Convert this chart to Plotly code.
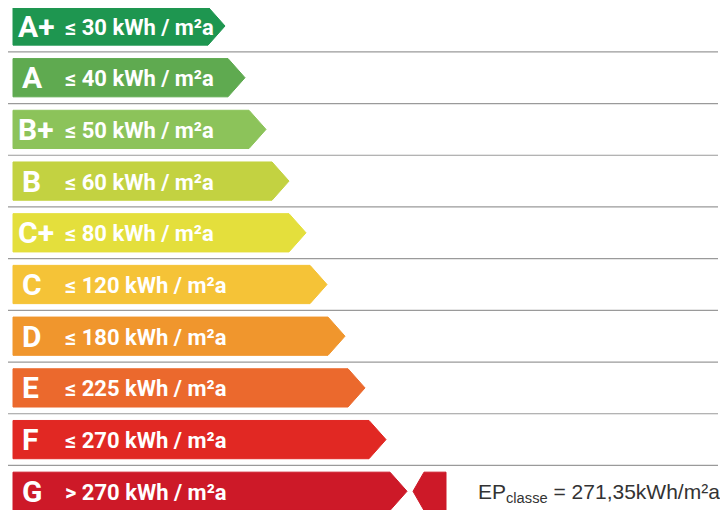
import plotly.graph_objects as go

# ---- data ----
classes = ["A+", "A", "B+", "B", "C+", "C", "D", "E", "F", "G"]
limits = ["≤ 30 kWh / m²a", "≤ 40 kWh / m²a", "≤ 50 kWh / m²a", "≤ 60 kWh / m²a",
          "≤ 80 kWh / m²a", "≤ 120 kWh / m²a", "≤ 180 kWh / m²a", "≤ 225 kWh / m²a",
          "≤ 270 kWh / m²a", "> 270 kWh / m²a"]
bar_length = [225, 245, 266, 289, 306, 327, 345, 365, 386, 407]
colors = ["#1e9650", "#5faa50", "#8cc35a", "#c3d241", "#e4df3c",
          "#f5c337", "#f0962d", "#eb692d", "#e12823", "#cd1928"]
ep_class = "G"
ep_value = 271.35

# ---- geometry (axis units) ----
# the page body has an 8px margin, so the figure is 720x502 and starts at (8, 8)
OFF = 8
W, H = 728 - OFF, 510 - OFF
x0 = 13
tip = 17
half = 0.37
pitch_px = 51.7
y_top = (OFF - 26) / pitch_px
y_bot = y_top + H / pitch_px

FONT_BAR = "Roboto, Liberation Sans, Arial, sans-serif"

fig = go.Figure()

# separator lines
sep_y = [i + 0.5 for i in range(len(classes) - 1)]
for s in sep_y:
    fig.add_trace(go.Scatter(x=[2, 718], y=[s, s], mode="lines",
                             line=dict(color="#9a9a9a", width=1.2),
                             hoverinfo="skip", showlegend=False))

# arrows
for i, (c, lim, L, col) in enumerate(zip(classes, limits, bar_length, colors)):
    xs = [x0, L - tip, L, L - tip, x0, x0]
    ys = [i - half, i - half, i, i + half, i + half, i - half]
    fig.add_trace(go.Scatter(x=xs, y=ys, mode="lines", fill="toself",
                             fillcolor=col, line=dict(color=col, width=1),
                             hoverinfo="skip", showlegend=False))
    fig.add_annotation(x=x0 + (3 if len(c) == 2 else 7), y=i, text=c, showarrow=False,
                       xanchor="left", yanchor="middle",
                       font=dict(family=FONT_BAR, size=30, color="white", weight="bold"))
    fig.add_annotation(x=63, y=i + 0.02, text=lim, showarrow=False,
                       xanchor="left", yanchor="middle",
                       font=dict(family=FONT_BAR, size=22, color="white", weight="bold"))

# EP indicator
k = classes.index(ep_class)
gx = bar_length[k] + 6
ic = colors[k]
fig.add_trace(go.Scatter(x=[gx, gx + 11, gx + 33, gx + 33, gx + 11, gx],
                         y=[k, k - half, k - half, k + half, k + half, k],
                         mode="lines", fill="toself", fillcolor=ic,
                         line=dict(color=ic, width=1), hoverinfo="skip", showlegend=False))
ep_txt = f"{ep_value:.2f}".replace(".", ",")
fig.add_annotation(x=722, y=k + 0.03, showarrow=False, xanchor="right", yanchor="middle",
                   text=f"EP<sub>classe</sub> = {ep_txt}kWh/m²a",
                   font=dict(family="Liberation Sans, Arial, sans-serif", size=21, color="#333333"))

fig.update_layout(width=W, height=H, margin=dict(l=0, r=0, t=0, b=0),
                  paper_bgcolor="white", plot_bgcolor="white", showlegend=False)
fig.update_xaxes(range=[OFF, 728], visible=False, fixedrange=True)
fig.update_yaxes(range=[y_bot, y_top], visible=False, fixedrange=True)
fig.write_html("out.html")
